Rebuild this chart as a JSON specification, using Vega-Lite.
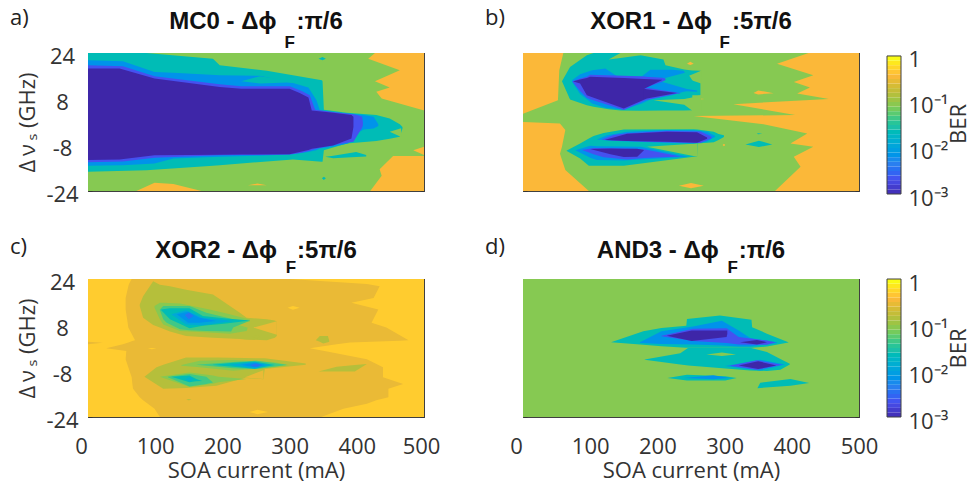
{"$schema":"https://vega.github.io/schema/vega-lite/v6.json","padding":{"left":9,"top":6,"right":0,"bottom":0},"background":"white","config":{"font":"Open Sans","view":{"stroke":"#404040","strokeWidth":1},"title":{"font":"Liberation Sans","fontWeight":"bold","fontSize":24,"color":"#111111","offset":-27},"axis":{"labelFont":"Open Sans","titleFont":"Open Sans","labelFontSize":22,"titleFontSize":22,"labelColor":"#333333","titleColor":"#333333","titleFontWeight":"normal","tickColor":"#333333","domain":true,"domainColor":"#404040","zindex":1,"grid":false,"labelFlush":false}},
"datasets":{
"ah":[{"s":"a0","b":0.095,"y":24,"x":0,"x2":500},{"s":"a0","b":0.095,"y":-24,"x":0,"x2":500},
{"s":"a1","b":0.41,"y":24,"x":427,"x2":500},{"s":"a1","b":0.41,"y":22,"x":417,"x2":500},{"s":"a1","b":0.41,"y":18,"x":464,"x2":500},{"s":"a1","b":0.41,"y":14.2,"x":427,"x2":500},{"s":"a1","b":0.41,"y":12,"x":449,"x2":500},{"s":"a1","b":0.41,"y":10.5,"x":429,"x2":500},{"s":"a1","b":0.41,"y":8.2,"x":437,"x2":500},{"s":"a1","b":0.41,"y":4.1,"x":499,"x2":500},
{"s":"a2","b":0.41,"y":-8.6,"x":500,"x2":500},{"s":"a2","b":0.41,"y":-9.8,"x":484,"x2":500},{"s":"a2","b":0.41,"y":-11.5,"x":500,"x2":500},
{"s":"a3","b":0.41,"y":-11.8,"x":454,"x2":500},{"s":"a3","b":0.41,"y":-16.4,"x":434,"x2":500},{"s":"a3","b":0.41,"y":-18.7,"x":437,"x2":500},{"s":"a3","b":0.41,"y":-24,"x":420,"x2":500}],
"av":[{"s":"a4","b":0.41,"x":72,"y":-24,"y2":-24},{"s":"a4","b":0.41,"x":99,"y":-21.1,"y2":-24},{"s":"a4","b":0.41,"x":127,"y":-21.6,"y2":-24},{"s":"a4","b":0.41,"x":169,"y":-24,"y2":-24},
{"s":"a5","b":0.41,"x":238,"y":-22,"y2":-22},{"s":"a5","b":0.41,"x":252,"y":-21.4,"y2":-22},{"s":"a5","b":0.41,"x":266,"y":-22,"y2":-22},
{"s":"a6","b":0.026,"x":0,"y":24,"y2":-17.3},{"s":"a6","b":0.026,"x":87,"y":24,"y2":-16.8},{"s":"a6","b":0.026,"x":186,"y":22,"y2":-15.2},{"s":"a6","b":0.026,"x":196,"y":19.7,"y2":-15},{"s":"a6","b":0.026,"x":266,"y":17.8,"y2":-13.7},{"s":"a6","b":0.026,"x":305,"y":16.3,"y2":-13},{"s":"a6","b":0.026,"x":348,"y":14.5,"y2":-13.8},{"s":"a6","b":0.026,"x":349,"y":14.3,"y2":-13.8},{"s":"a6","b":0.026,"x":351,"y":4.3,"y2":-9.8},{"s":"a6","b":0.026,"x":385,"y":3.2,"y2":-7.5},{"s":"a6","b":0.026,"x":429,"y":2.4,"y2":-6.6},{"s":"a6","b":0.026,"x":449,"y":1.2,"y2":-5.8},{"s":"a6","b":0.026,"x":464,"y":-0.8,"y2":-5.1},{"s":"a6","b":0.026,"x":468,"y":-1.7,"y2":-2.3},
{"s":"a7","b":0.095,"x":449,"y":-3.4,"y2":-3.4},{"s":"a7","b":0.095,"x":466,"y":-2.2,"y2":-5.2},
{"s":"a8","b":0.026,"x":343,"y":22,"y2":22},{"s":"a8","b":0.026,"x":349,"y":22.6,"y2":21.5},{"s":"a8","b":0.026,"x":354,"y":22,"y2":22},
{"s":"a9","b":0.026,"x":348,"y":-19.6,"y2":-19.6},{"s":"a9","b":0.026,"x":351,"y":-19,"y2":-20.2},{"s":"a9","b":0.026,"x":354,"y":-19.6,"y2":-19.6},
{"s":"a10","b":0.026,"x":353,"y":-12.1,"y2":-12.1},{"s":"a10","b":0.026,"x":365,"y":-11.7,"y2":-12.6},{"s":"a10","b":0.026,"x":399,"y":-10.4,"y2":-12.2},{"s":"a10","b":0.026,"x":414,"y":-11.5,"y2":-12},
{"s":"a11","b":0.0075,"x":0,"y":21.5,"y2":-15.2},{"s":"a11","b":0.0075,"x":52,"y":21.1,"y2":-15},{"s":"a11","b":0.0075,"x":99,"y":17.4,"y2":-14.4},{"s":"a11","b":0.0075,"x":127,"y":17.1,"y2":-12.7},{"s":"a11","b":0.0075,"x":196,"y":16.3,"y2":-12.1},{"s":"a11","b":0.0075,"x":256,"y":16.1,"y2":-11.7},{"s":"a11","b":0.0075,"x":305,"y":13.6,"y2":-11.2},{"s":"a11","b":0.0075,"x":328,"y":12,"y2":-10.4},{"s":"a11","b":0.0075,"x":340,"y":7.6,"y2":-9.8},{"s":"a11","b":0.0075,"x":345,"y":4.1,"y2":-9.2},{"s":"a11","b":0.0075,"x":365,"y":3.4,"y2":-8.6},{"s":"a11","b":0.0075,"x":387,"y":3,"y2":-7.5},{"s":"a11","b":0.0075,"x":400,"y":2.7,"y2":-4},{"s":"a11","b":0.0075,"x":410,"y":2.4,"y2":-2.6},{"s":"a11","b":0.0075,"x":425,"y":1.8,"y2":-2.3},{"s":"a11","b":0.0075,"x":432,"y":-0.8,"y2":-1.4},
{"s":"a12","b":0.026,"x":228,"y":14.2,"y2":14.2},{"s":"a12","b":0.026,"x":256,"y":15.9,"y2":13.4},{"s":"a12","b":0.026,"x":296,"y":14.5,"y2":13.7},{"s":"a12","b":0.026,"x":305,"y":13.7,"y2":13.6},
{"s":"a13","b":0.0024,"x":0,"y":19.7,"y2":-14},{"s":"a13","b":0.0024,"x":52,"y":19.4,"y2":-13.7},{"s":"a13","b":0.0024,"x":99,"y":15.9,"y2":-12.4},{"s":"a13","b":0.0024,"x":196,"y":13.1,"y2":-11.6},{"s":"a13","b":0.0024,"x":228,"y":12.4,"y2":-11.5},{"s":"a13","b":0.0024,"x":300,"y":12.4,"y2":-11.3},{"s":"a13","b":0.0024,"x":318,"y":10.8,"y2":-10.7},{"s":"a13","b":0.0024,"x":330,"y":9.3,"y2":-10},{"s":"a13","b":0.0024,"x":338,"y":4.3,"y2":-9.4},{"s":"a13","b":0.0024,"x":365,"y":3.5,"y2":-8},{"s":"a13","b":0.0024,"x":395,"y":2.7,"y2":-6.9},{"s":"a13","b":0.0024,"x":403,"y":2.3,"y2":-3.8},{"s":"a13","b":0.0024,"x":408,"y":1.8,"y2":-1.9},{"s":"a13","b":0.0024,"x":409,"y":0,"y2":-1.1},
{"s":"a14","b":0.001,"x":0,"y":18.6,"y2":-13.2},{"s":"a14","b":0.001,"x":47,"y":18.6,"y2":-13},{"s":"a14","b":0.001,"x":99,"y":15.1,"y2":-11.6},{"s":"a14","b":0.001,"x":196,"y":12.2,"y2":-11.4},{"s":"a14","b":0.001,"x":228,"y":11.6,"y2":-11.3},{"s":"a14","b":0.001,"x":300,"y":11.6,"y2":-11.2},{"s":"a14","b":0.001,"x":315,"y":10.1,"y2":-10.4},{"s":"a14","b":0.001,"x":328,"y":8.5,"y2":-9.7},{"s":"a14","b":0.001,"x":333,"y":4,"y2":-9.3},{"s":"a14","b":0.001,"x":365,"y":3.2,"y2":-8.2},{"s":"a14","b":0.001,"x":392,"y":2.4,"y2":-5.7},{"s":"a14","b":0.001,"x":395,"y":1.8,"y2":-1.7}],
"bh":[{"s":"b0","b":0.095,"y":24,"x":0,"x2":500},{"s":"b0","b":0.095,"y":-24,"x":0,"x2":500},
{"s":"b1","b":0.41,"y":24,"x":0,"x2":60},{"s":"b1","b":0.41,"y":18,"x":0,"x2":54},{"s":"b1","b":0.41,"y":7.6,"x":0,"x2":52},{"s":"b1","b":0.41,"y":3,"x":0,"x2":1},{"s":"b1","b":0.41,"y":2.9,"x":0,"x2":0},
{"s":"b2","b":0.41,"y":0,"x":0,"x2":1},{"s":"b2","b":0.41,"y":-0.5,"x":0,"x2":55},{"s":"b2","b":0.41,"y":-2.8,"x":0,"x2":63},{"s":"b2","b":0.41,"y":-8.6,"x":0,"x2":58},{"s":"b2","b":0.41,"y":-11,"x":0,"x2":55},{"s":"b2","b":0.41,"y":-16.7,"x":0,"x2":63},{"s":"b2","b":0.41,"y":-24,"x":0,"x2":98},
{"s":"b3","b":0.41,"y":24,"x":425,"x2":500},{"s":"b3","b":0.41,"y":20.3,"x":378,"x2":500},{"s":"b3","b":0.41,"y":16.3,"x":432,"x2":500},{"s":"b3","b":0.41,"y":13.9,"x":403,"x2":500},{"s":"b3","b":0.41,"y":12,"x":427,"x2":500},{"s":"b3","b":0.41,"y":9.9,"x":408,"x2":500},{"s":"b3","b":0.41,"y":8,"x":455,"x2":500},{"s":"b3","b":0.41,"y":6.2,"x":313,"x2":500},{"s":"b3","b":0.41,"y":2.4,"x":405,"x2":500},{"s":"b3","b":0.41,"y":2.1,"x":254,"x2":500},{"s":"b3","b":0.41,"y":-0.8,"x":358,"x2":500},{"s":"b3","b":0.41,"y":-4,"x":423,"x2":500},{"s":"b3","b":0.41,"y":-7.5,"x":398,"x2":500},{"s":"b3","b":0.41,"y":-8.6,"x":432,"x2":500},{"s":"b3","b":0.41,"y":-12.1,"x":403,"x2":500},{"s":"b3","b":0.41,"y":-15.6,"x":413,"x2":500},{"s":"b3","b":0.41,"y":-24,"x":375,"x2":500}],
"bv":[{"s":"b4","b":0.41,"x":343,"y":10.1,"y2":10.1},{"s":"b4","b":0.41,"x":350,"y":11,"y2":9.6},{"s":"b4","b":0.41,"x":373,"y":10,"y2":10},
{"s":"b5","b":0.41,"x":232,"y":-22.2,"y2":-22.2},{"s":"b5","b":0.41,"x":250,"y":-21.2,"y2":-23},{"s":"b5","b":0.41,"x":269,"y":-22.2,"y2":-22.2},
{"s":"b6","b":0.41,"x":244,"y":20.3,"y2":20.3},{"s":"b6","b":0.41,"x":249,"y":21,"y2":19.8},{"s":"b6","b":0.41,"x":254,"y":20.3,"y2":20.3},
{"s":"b7","b":0.41,"x":255,"y":8,"y2":8},{"s":"b7","b":0.41,"x":262,"y":8.2,"y2":7.8},{"s":"b7","b":0.41,"x":270,"y":8,"y2":8},
{"s":"b8","b":0.41,"x":297,"y":-8,"y2":-8},{"s":"b8","b":0.41,"x":299,"y":-7.6,"y2":-8.4},{"s":"b8","b":0.41,"x":301,"y":-8,"y2":-8},
{"s":"b9","b":0.026,"x":58,"y":14.2,"y2":14.2},{"s":"b9","b":0.026,"x":70,"y":19.1,"y2":7.8},{"s":"b9","b":0.026,"x":95,"y":23.2,"y2":5.8},{"s":"b9","b":0.026,"x":105,"y":24,"y2":5.3},{"s":"b9","b":0.026,"x":127.5,"y":24,"y2":4.4},{"s":"b9","b":0.026,"x":145,"y":24,"y2":4},{"s":"b9","b":0.026,"x":175,"y":23.2,"y2":3.9},{"s":"b9","b":0.026,"x":209,"y":21.7,"y2":4},{"s":"b9","b":0.026,"x":212,"y":19.7,"y2":4},{"s":"b9","b":0.026,"x":240,"y":18.3,"y2":4},{"s":"b9","b":0.026,"x":251.5,"y":17.9,"y2":4.1},{"s":"b9","b":0.026,"x":252,"y":17.9,"y2":9.3},{"s":"b9","b":0.026,"x":264,"y":17.8,"y2":9.3},
{"s":"b10","b":0.095,"x":127.5,"y":21.7,"y2":21.7},{"s":"b10","b":0.095,"x":145,"y":24,"y2":22.3},{"s":"b10","b":0.095,"x":175,"y":24,"y2":23.2},
{"s":"b11","b":0.095,"x":240,"y":15.4,"y2":15.4},{"s":"b11","b":0.095,"x":265,"y":17.8,"y2":13.4},
{"s":"b12","b":0.095,"x":194,"y":7.6,"y2":7.6},{"s":"b12","b":0.095,"x":240,"y":8,"y2":6},{"s":"b12","b":0.095,"x":251.5,"y":8.5,"y2":4},{"s":"b12","b":0.095,"x":265,"y":9.4,"y2":4},
{"s":"b13","b":0.0075,"x":73,"y":14.5,"y2":13.9},{"s":"b13","b":0.0075,"x":85,"y":16.6,"y2":9.7},{"s":"b13","b":0.0075,"x":103,"y":18,"y2":6.4},{"s":"b13","b":0.0075,"x":122.5,"y":18.6,"y2":5},{"s":"b13","b":0.0075,"x":140,"y":15.9,"y2":4.5},{"s":"b13","b":0.0075,"x":150,"y":15.9,"y2":4.3},{"s":"b13","b":0.0075,"x":177,"y":15.9,"y2":6.4},{"s":"b13","b":0.0075,"x":189.5,"y":18.2,"y2":7.8},{"s":"b13","b":0.0075,"x":222,"y":18.2,"y2":9.3},{"s":"b13","b":0.0075,"x":239,"y":17.8,"y2":10.5},{"s":"b13","b":0.0075,"x":244,"y":16,"y2":10.7},{"s":"b13","b":0.0075,"x":259,"y":11,"y2":10.5},
{"s":"b14","b":0.026,"x":199,"y":14.5,"y2":14.5},{"s":"b14","b":0.026,"x":244,"y":17.3,"y2":11.5},{"s":"b14","b":0.026,"x":259,"y":12,"y2":11},
{"s":"b15","b":0.0024,"x":74,"y":14.2,"y2":13.9},{"s":"b15","b":0.0024,"x":85,"y":15.1,"y2":10.8},{"s":"b15","b":0.0024,"x":95,"y":15.7,"y2":8.4},{"s":"b15","b":0.0024,"x":100,"y":16.4,"y2":7.9},{"s":"b15","b":0.0024,"x":150,"y":16.1,"y2":4.2},{"s":"b15","b":0.0024,"x":182,"y":15.8,"y2":7.6},{"s":"b15","b":0.0024,"x":183,"y":15.7,"y2":12},{"s":"b15","b":0.0024,"x":207,"y":15.4,"y2":14},{"s":"b15","b":0.0024,"x":212,"y":15.1,"y2":14.5},
{"s":"b16","b":0.0024,"x":182,"y":12,"y2":7.6},{"s":"b16","b":0.0024,"x":229,"y":10.3,"y2":9.9},{"s":"b16","b":0.0024,"x":234,"y":10,"y2":9.9},
{"s":"b17","b":0.001,"x":75,"y":14.2,"y2":14.1},{"s":"b17","b":0.001,"x":85,"y":14.8,"y2":13.4},{"s":"b17","b":0.001,"x":95,"y":15.3,"y2":9.3},{"s":"b17","b":0.001,"x":100,"y":15.7,"y2":8.9},{"s":"b17","b":0.001,"x":150,"y":15.3,"y2":4.7},{"s":"b17","b":0.001,"x":180,"y":15,"y2":7.7},{"s":"b17","b":0.001,"x":180.5,"y":15,"y2":11.6},{"s":"b17","b":0.001,"x":207,"y":14.7,"y2":14.6},
{"s":"b18","b":0.001,"x":180,"y":11.6,"y2":7.7},{"s":"b18","b":0.001,"x":184.5,"y":11.4,"y2":8.2},{"s":"b18","b":0.001,"x":229,"y":10.1,"y2":10.1},
{"s":"b19","b":0.026,"x":64.5,"y":-10,"y2":-10},{"s":"b19","b":0.026,"x":85,"y":-7.5,"y2":-12.7},{"s":"b19","b":0.026,"x":98,"y":-5.7,"y2":-15.2},{"s":"b19","b":0.026,"x":105,"y":-4.9,"y2":-15.2},{"s":"b19","b":0.026,"x":120,"y":-3.8,"y2":-15.2},{"s":"b19","b":0.026,"x":150,"y":-2.6,"y2":-15.2},{"s":"b19","b":0.026,"x":254,"y":-2.5,"y2":-12.1},{"s":"b19","b":0.026,"x":259,"y":-2.6,"y2":-12.1},{"s":"b19","b":0.026,"x":259.5,"y":-2.6,"y2":-7.5},{"s":"b19","b":0.026,"x":284,"y":-3.4,"y2":-7},{"s":"b19","b":0.026,"x":291,"y":-4.2,"y2":-6.3},{"s":"b19","b":0.026,"x":299,"y":-4.6,"y2":-5.2},
{"s":"b20","b":0.095,"x":184.5,"y":-8.6,"y2":-8.6},{"s":"b20","b":0.095,"x":259,"y":-7.5,"y2":-12.1},
{"s":"b21","b":0.0075,"x":110,"y":-6.1,"y2":-6.1},{"s":"b21","b":0.0075,"x":125,"y":-4.6,"y2":-6.4},{"s":"b21","b":0.0075,"x":155,"y":-3.4,"y2":-6.8},{"s":"b21","b":0.0075,"x":214,"y":-2.8,"y2":-7.2},{"s":"b21","b":0.0075,"x":254,"y":-2.9,"y2":-7.5},{"s":"b21","b":0.0075,"x":274,"y":-3.4,"y2":-6.8},{"s":"b21","b":0.0075,"x":286,"y":-4.9,"y2":-5.1},
{"s":"b22","b":0.0075,"x":78,"y":-9.8,"y2":-9.8},{"s":"b22","b":0.0075,"x":100,"y":-8.3,"y2":-12.4},{"s":"b22","b":0.0075,"x":110,"y":-8.4,"y2":-13.2},{"s":"b22","b":0.0075,"x":150,"y":-8.5,"y2":-13.4},{"s":"b22","b":0.0075,"x":175,"y":-8.6,"y2":-13},{"s":"b22","b":0.0075,"x":246.5,"y":-12.1,"y2":-12.1},
{"s":"b23","b":0.0024,"x":88,"y":-9.7,"y2":-9.7},{"s":"b23","b":0.0024,"x":105,"y":-9,"y2":-11.2},{"s":"b23","b":0.0024,"x":120,"y":-9.1,"y2":-12.3},{"s":"b23","b":0.0024,"x":155,"y":-9.2,"y2":-13},{"s":"b23","b":0.0024,"x":180,"y":-9.5,"y2":-12.5},{"s":"b23","b":0.0024,"x":234,"y":-12,"y2":-12},
{"s":"b24","b":0.001,"x":100,"y":-9.4,"y2":-9.4},{"s":"b24","b":0.001,"x":130,"y":-9.2,"y2":-11.2},{"s":"b24","b":0.001,"x":150,"y":-9.3,"y2":-12.2},{"s":"b24","b":0.001,"x":170,"y":-9.3,"y2":-12.1},{"s":"b24","b":0.001,"x":180,"y":-9.7,"y2":-9.8},
{"s":"b25","b":0.0024,"x":117.5,"y":-6.1,"y2":-6.2},{"s":"b25","b":0.0024,"x":135,"y":-4.5,"y2":-6.4},{"s":"b25","b":0.0024,"x":155,"y":-3.9,"y2":-6.6},{"s":"b25","b":0.0024,"x":214,"y":-3.1,"y2":-7},{"s":"b25","b":0.0024,"x":264,"y":-3.3,"y2":-7.3},{"s":"b25","b":0.0024,"x":279,"y":-4.9,"y2":-5.8},{"s":"b25","b":0.0024,"x":281,"y":-5.4,"y2":-5.5},
{"s":"b26","b":0.001,"x":122.5,"y":-6.2,"y2":-6.3},{"s":"b26","b":0.001,"x":155,"y":-4.1,"y2":-6.6},{"s":"b26","b":0.001,"x":214,"y":-3.4,"y2":-6.9},{"s":"b26","b":0.001,"x":259,"y":-3.6,"y2":-7.2},{"s":"b26","b":0.001,"x":274,"y":-5.4,"y2":-5.8},
{"s":"b27","b":0.026,"x":331,"y":-7.8,"y2":-7.8},{"s":"b27","b":0.026,"x":351,"y":-6.5,"y2":-8.7},{"s":"b27","b":0.026,"x":371,"y":-7.8,"y2":-7.8},
{"s":"b28","b":0.026,"x":348,"y":-4,"y2":-4},{"s":"b28","b":0.026,"x":350,"y":-3.9,"y2":-4.3},{"s":"b28","b":0.026,"x":356,"y":-4.1,"y2":-4.1}],
"ch":[{"s":"c0","b":0.55,"y":24,"x":0,"x2":500},{"s":"c0","b":0.55,"y":-24,"x":0,"x2":500},
{"s":"c1","b":0.33,"y":24,"x":65,"x2":300},{"s":"c1","b":0.33,"y":22.3,"x":61,"x2":415},{"s":"c1","b":0.33,"y":21.5,"x":60,"x2":434},{"s":"c1","b":0.33,"y":17.4,"x":56,"x2":425},{"s":"c1","b":0.33,"y":15.7,"x":56,"x2":392},{"s":"c1","b":0.33,"y":13.4,"x":56,"x2":432},{"s":"c1","b":0.33,"y":8.8,"x":59,"x2":422},{"s":"c1","b":0.33,"y":7.1,"x":60,"x2":444},{"s":"c1","b":0.33,"y":2.7,"x":70,"x2":477},{"s":"c1","b":0.33,"y":2.5,"x":67,"x2":464},{"s":"c1","b":0.33,"y":1.9,"x":60,"x2":390},{"s":"c1","b":0.33,"y":1.3,"x":52,"x2":370},{"s":"c1","b":0.33,"y":-0.1,"x":27,"x2":330},{"s":"c1","b":0.33,"y":-1,"x":57,"x2":352},{"s":"c1","b":0.33,"y":-3.9,"x":56,"x2":415},{"s":"c1","b":0.33,"y":-6.7,"x":60,"x2":439},{"s":"c1","b":0.33,"y":-10.2,"x":65,"x2":439},{"s":"c1","b":0.33,"y":-12.5,"x":66,"x2":469},{"s":"c1","b":0.33,"y":-14.2,"x":67,"x2":447},{"s":"c1","b":0.33,"y":-17.1,"x":77,"x2":447},{"s":"c1","b":0.33,"y":-18.2,"x":82,"x2":429},{"s":"c1","b":0.33,"y":-19.4,"x":89,"x2":415},{"s":"c1","b":0.33,"y":-21.1,"x":99,"x2":380},{"s":"c1","b":0.33,"y":-24,"x":107,"x2":347}],
"cv":[{"s":"c2","b":0.33,"x":0,"y":2.2,"y2":1.3},{"s":"c2","b":0.33,"x":22,"y":1.8,"y2":1.8},
{"s":"c3","b":0.55,"x":297,"y":14,"y2":14},{"s":"c3","b":0.55,"x":305,"y":14.6,"y2":13.3},{"s":"c3","b":0.55,"x":315,"y":14,"y2":14},
{"s":"c4","b":0.55,"x":240,"y":-22.3,"y2":-22.3},{"s":"c4","b":0.55,"x":252,"y":-21.5,"y2":-23},{"s":"c4","b":0.55,"x":268,"y":-22.3,"y2":-22.3},
{"s":"c5","b":0.55,"x":89,"y":-0.2,"y2":-0.2},{"s":"c5","b":0.55,"x":95,"y":0,"y2":-0.4},{"s":"c5","b":0.55,"x":102,"y":-0.2,"y2":-0.2},
{"s":"c6","b":0.165,"x":77,"y":15.1,"y2":14.6},{"s":"c6","b":0.165,"x":82,"y":18,"y2":10.5},{"s":"c6","b":0.165,"x":97,"y":23.2,"y2":8},{"s":"c6","b":0.165,"x":107,"y":22,"y2":7.1},{"s":"c6","b":0.165,"x":122,"y":21.5,"y2":5.7},{"s":"c6","b":0.165,"x":146,"y":20.3,"y2":4.2},{"s":"c6","b":0.165,"x":186,"y":18.6,"y2":3.6},{"s":"c6","b":0.165,"x":226,"y":12.3,"y2":3.1},{"s":"c6","b":0.165,"x":236,"y":10.5,"y2":2.9},{"s":"c6","b":0.165,"x":266,"y":10,"y2":2.7},{"s":"c6","b":0.165,"x":278,"y":9.6,"y2":3.6},{"s":"c6","b":0.165,"x":281,"y":9.2,"y2":4.2},
{"s":"c7","b":0.33,"x":246,"y":7.1,"y2":7.1},{"s":"c7","b":0.33,"x":281,"y":9.3,"y2":4.6},
{"s":"c8","b":0.095,"x":99,"y":14.6,"y2":14},{"s":"c8","b":0.095,"x":107,"y":15.7,"y2":10},{"s":"c8","b":0.095,"x":112,"y":15.7,"y2":8.2},{"s":"c8","b":0.095,"x":137,"y":15.5,"y2":5.9},{"s":"c8","b":0.095,"x":181,"y":13.4,"y2":5.4},{"s":"c8","b":0.095,"x":211,"y":11.7,"y2":5},{"s":"c8","b":0.095,"x":236,"y":10.2,"y2":5.9},{"s":"c8","b":0.095,"x":241,"y":9.9,"y2":9.4},
{"s":"c9","b":0.165,"x":216,"y":8.5,"y2":8.5},{"s":"c9","b":0.165,"x":241,"y":9.2,"y2":6.9},
{"s":"c10","b":0.05,"x":107,"y":13.4,"y2":13.1},{"s":"c10","b":0.05,"x":112,"y":14.6,"y2":10},{"s":"c10","b":0.05,"x":117,"y":14.6,"y2":8.8},{"s":"c10","b":0.05,"x":137,"y":14.6,"y2":6.5},{"s":"c10","b":0.05,"x":151,"y":14.6,"y2":6.2},{"s":"c10","b":0.05,"x":176,"y":12.3,"y2":5.9},{"s":"c10","b":0.05,"x":213,"y":10.2,"y2":5.7},{"s":"c10","b":0.05,"x":216,"y":9.8,"y2":7.1},{"s":"c10","b":0.05,"x":241,"y":9.6,"y2":9.5},
{"s":"c11","b":0.026,"x":109,"y":13.4,"y2":13.1},{"s":"c11","b":0.026,"x":122,"y":13.8,"y2":10},{"s":"c11","b":0.026,"x":151,"y":13.8,"y2":6.9},{"s":"c11","b":0.026,"x":171,"y":11.1,"y2":7.7},{"s":"c11","b":0.026,"x":206,"y":10.3,"y2":8.5},{"s":"c11","b":0.026,"x":241,"y":9.6,"y2":9.6},
{"s":"c12","b":0.0138,"x":124,"y":11.7,"y2":11.7},{"s":"c12","b":0.0138,"x":146,"y":13.1,"y2":8.2},{"s":"c12","b":0.0138,"x":171,"y":10.5,"y2":7.9},{"s":"c12","b":0.0138,"x":216,"y":9.4,"y2":9.4},
{"s":"c13","b":0.0075,"x":132,"y":11.7,"y2":11.7},{"s":"c13","b":0.0075,"x":149,"y":12.6,"y2":8.8},{"s":"c13","b":0.0075,"x":166,"y":10.5,"y2":8.8},{"s":"c13","b":0.0075,"x":191,"y":9.4,"y2":9.4},
{"s":"c14","b":0.004,"x":144,"y":11.5,"y2":11.5},{"s":"c14","b":0.004,"x":150,"y":12.3,"y2":10},{"s":"c14","b":0.004,"x":157,"y":11.1,"y2":11.1},
{"s":"c15","b":0.165,"x":243,"y":3.9,"y2":3.9},{"s":"c15","b":0.165,"x":251,"y":4.4,"y2":3.4},{"s":"c15","b":0.165,"x":256,"y":3.9,"y2":3.9},
{"s":"c16","b":0.165,"x":339,"y":2.7,"y2":2.7},{"s":"c16","b":0.165,"x":345,"y":4.2,"y2":2.2},{"s":"c16","b":0.165,"x":350,"y":4.2,"y2":1.6},{"s":"c16","b":0.165,"x":357,"y":4.2,"y2":2},{"s":"c16","b":0.165,"x":359,"y":2.5,"y2":2.2},
{"s":"c17","b":0.165,"x":343,"y":-8.2,"y2":-8.2},{"s":"c17","b":0.165,"x":370,"y":-6.5,"y2":-8.2},{"s":"c17","b":0.165,"x":397,"y":-5.9,"y2":-8.2},{"s":"c17","b":0.165,"x":415,"y":-5.6,"y2":-5.6},
{"s":"c18","b":0.165,"x":84,"y":-10,"y2":-10},{"s":"c18","b":0.165,"x":102,"y":-6.7,"y2":-12.7},{"s":"c18","b":0.165,"x":112,"y":-5.8,"y2":-14.2},{"s":"c18","b":0.165,"x":146,"y":-3.3,"y2":-13.9},{"s":"c18","b":0.165,"x":191,"y":-3.3,"y2":-13.1},{"s":"c18","b":0.165,"x":233,"y":-3.5,"y2":-10.4},{"s":"c18","b":0.165,"x":261,"y":-3.6,"y2":-10.9},{"s":"c18","b":0.165,"x":263,"y":-3.6,"y2":-7.3},{"s":"c18","b":0.165,"x":324,"y":-5.4,"y2":-5.8},
{"s":"c19","b":0.33,"x":233,"y":-10.3,"y2":-10.3},{"s":"c19","b":0.33,"x":261,"y":-7.7,"y2":-10.8},
{"s":"c20","b":0.095,"x":139,"y":-5.9,"y2":-6.2},{"s":"c20","b":0.095,"x":166,"y":-4.4,"y2":-6.7},{"s":"c20","b":0.095,"x":216,"y":-4.2,"y2":-7.9},{"s":"c20","b":0.095,"x":276,"y":-4.9,"y2":-6.7},{"s":"c20","b":0.095,"x":298,"y":-5.9,"y2":-6},
{"s":"c21","b":0.095,"x":107,"y":-10,"y2":-10},{"s":"c21","b":0.095,"x":151,"y":-8.5,"y2":-13.6},{"s":"c21","b":0.095,"x":186,"y":-9.6,"y2":-12.4},{"s":"c21","b":0.095,"x":194,"y":-10,"y2":-11.9},{"s":"c21","b":0.095,"x":236,"y":-10.8,"y2":-10.8},
{"s":"c22","b":0.05,"x":161,"y":-5.8,"y2":-5.8},{"s":"c22","b":0.05,"x":216,"y":-4.9,"y2":-7},{"s":"c22","b":0.05,"x":251,"y":-4.4,"y2":-7.3},{"s":"c22","b":0.05,"x":295,"y":-5.8,"y2":-5.9},
{"s":"c23","b":0.026,"x":186,"y":-5.8,"y2":-5.9},{"s":"c23","b":0.026,"x":216,"y":-5.1,"y2":-6.5},{"s":"c23","b":0.026,"x":248,"y":-4.7,"y2":-7.2},{"s":"c23","b":0.026,"x":278,"y":-5.9,"y2":-5.9},
{"s":"c24","b":0.0138,"x":211,"y":-5.8,"y2":-5.8},{"s":"c24","b":0.0138,"x":248,"y":-4.9,"y2":-7.1},{"s":"c24","b":0.0138,"x":271,"y":-5.9,"y2":-5.9},
{"s":"c25","b":0.0075,"x":228,"y":-5.8,"y2":-5.8},{"s":"c25","b":0.0075,"x":248,"y":-5.1,"y2":-6.7},{"s":"c25","b":0.0075,"x":263,"y":-5.9,"y2":-5.9},
{"s":"c26","b":0.004,"x":241,"y":-6,"y2":-6},{"s":"c26","b":0.004,"x":250,"y":-5.4,"y2":-6.6},{"s":"c26","b":0.004,"x":258,"y":-6,"y2":-6},
{"s":"c27","b":0.05,"x":119,"y":-10,"y2":-10.2},{"s":"c27","b":0.05,"x":151,"y":-9,"y2":-13.4},{"s":"c27","b":0.05,"x":176,"y":-10,"y2":-12.5},{"s":"c27","b":0.05,"x":186,"y":-12,"y2":-12},
{"s":"c28","b":0.026,"x":124,"y":-10,"y2":-10},{"s":"c28","b":0.026,"x":151,"y":-9.6,"y2":-11.9},{"s":"c28","b":0.026,"x":161,"y":-10.8,"y2":-11.6},{"s":"c28","b":0.026,"x":170,"y":-11.5,"y2":-11.5},
{"s":"c29","b":0.018,"x":144,"y":-10.8,"y2":-10.8},{"s":"c29","b":0.018,"x":151,"y":-10,"y2":-11.7},{"s":"c29","b":0.018,"x":157,"y":-10.8,"y2":-10.8},
{"s":"c30","b":0.165,"x":146,"y":-18,"y2":-18},{"s":"c30","b":0.165,"x":150,"y":-17.7,"y2":-18.2},{"s":"c30","b":0.165,"x":154,"y":-18,"y2":-18}],
"dh":[{"s":"d0","b":0.095,"y":24,"x":0,"x2":500},{"s":"d0","b":0.095,"y":-24,"x":0,"x2":500}],
"dv":[{"s":"d1","b":0.026,"x":131,"y":2,"y2":2},{"s":"d1","b":0.026,"x":179,"y":5.8,"y2":1.1},{"s":"d1","b":0.026,"x":206,"y":7,"y2":0.6},{"s":"d1","b":0.026,"x":243,"y":7.7,"y2":0.1},{"s":"d1","b":0.026,"x":244,"y":10.1,"y2":0.1},{"s":"d1","b":0.026,"x":293,"y":11.3,"y2":0.1},{"s":"d1","b":0.026,"x":340,"y":9.8,"y2":0.1},{"s":"d1","b":0.026,"x":341,"y":7.2,"y2":0.1},{"s":"d1","b":0.026,"x":363,"y":5,"y2":0.5},{"s":"d1","b":0.026,"x":395,"y":2,"y2":1.9},
{"s":"d2","b":0.026,"x":181,"y":-4,"y2":-4.1},{"s":"d2","b":0.026,"x":234,"y":-1.8,"y2":-5.7},{"s":"d2","b":0.026,"x":246,"y":0.1,"y2":-6.1},{"s":"d2","b":0.026,"x":338,"y":0.1,"y2":-7.8},{"s":"d2","b":0.026,"x":363,"y":-1.4,"y2":-8},{"s":"d2","b":0.026,"x":383,"y":-3.8,"y2":-7.6},{"s":"d2","b":0.026,"x":397,"y":-5.5,"y2":-5.7},
{"s":"d3","b":0.095,"x":273,"y":-2.3,"y2":-2.3},{"s":"d3","b":0.095,"x":296,"y":-1.6,"y2":-2.8},{"s":"d3","b":0.095,"x":317,"y":-2.3,"y2":-2.3},
{"s":"d4","b":0.0075,"x":301,"y":-6.3,"y2":-6.3},{"s":"d4","b":0.0075,"x":353,"y":-4.1,"y2":-7.8},{"s":"d4","b":0.0075,"x":390,"y":-5.7,"y2":-5.7},
{"s":"d5","b":0.0024,"x":308,"y":-6.2,"y2":-6.2},{"s":"d5","b":0.0024,"x":348,"y":-4.3,"y2":-7.6},{"s":"d5","b":0.0024,"x":385,"y":-5.8,"y2":-5.8},
{"s":"d6","b":0.001,"x":321,"y":-6.1,"y2":-6.1},{"s":"d6","b":0.001,"x":350,"y":-4.6,"y2":-7.3},{"s":"d6","b":0.001,"x":377,"y":-6.1,"y2":-6.1},
{"s":"d7","b":0.0075,"x":174,"y":2,"y2":1.7},{"s":"d7","b":0.0075,"x":206,"y":5.8,"y2":1.4},{"s":"d7","b":0.0075,"x":253,"y":7.5,"y2":1.2},{"s":"d7","b":0.0075,"x":296,"y":9.5,"y2":0.9},{"s":"d7","b":0.0075,"x":321,"y":6.1,"y2":0.5},{"s":"d7","b":0.0075,"x":338,"y":3.5,"y2":0.5},{"s":"d7","b":0.0075,"x":378,"y":2,"y2":1.7},
{"s":"d8","b":0.0024,"x":206,"y":4.3,"y2":4.1},{"s":"d8","b":0.0024,"x":253,"y":6.7,"y2":2.4},{"s":"d8","b":0.0024,"x":303,"y":6.9,"y2":1.7},{"s":"d8","b":0.0024,"x":321,"y":3.8,"y2":1.2},{"s":"d8","b":0.0024,"x":363,"y":2.6,"y2":1.1},{"s":"d8","b":0.0024,"x":375,"y":2,"y2":1.9},
{"s":"d9","b":0.001,"x":214,"y":4.3,"y2":4.3},{"s":"d9","b":0.001,"x":251,"y":6.1,"y2":2.4},{"s":"d9","b":0.001,"x":303,"y":6.1,"y2":3.8},{"s":"d9","b":0.001,"x":304,"y":6.1,"y2":4.9},
{"s":"d10","b":0.001,"x":323,"y":2,"y2":2},{"s":"d10","b":0.001,"x":348,"y":2.8,"y2":1.2},{"s":"d10","b":0.001,"x":363,"y":2,"y2":2},
{"s":"d11","b":0.026,"x":215,"y":-10.4,"y2":-10.4},{"s":"d11","b":0.026,"x":244,"y":-9.3,"y2":-11.3},{"s":"d11","b":0.026,"x":301,"y":-9.8,"y2":-11.3},{"s":"d11","b":0.026,"x":318,"y":-10.4,"y2":-10.4},
{"s":"d12","b":0.0075,"x":239,"y":-10.4,"y2":-10.4},{"s":"d12","b":0.0075,"x":283,"y":-9.5,"y2":-10.9},{"s":"d12","b":0.0075,"x":308,"y":-10.4,"y2":-10.4},
{"s":"d13","b":0.026,"x":349,"y":-13.9,"y2":-14},{"s":"d13","b":0.026,"x":353,"y":-12.1,"y2":-13.9},{"s":"d13","b":0.026,"x":398,"y":-10.8,"y2":-13.1},{"s":"d13","b":0.026,"x":426,"y":-12.2,"y2":-12.2}],
"bar":[{"b":0.001,"h":0.00126},{"b":0.00126,"h":0.00158},{"b":0.00158,"h":0.002},{"b":0.002,"h":0.00251},{"b":0.00251,"h":0.00316},{"b":0.00316,"h":0.00398},{"b":0.00398,"h":0.00501},{"b":0.00501,"h":0.00631},{"b":0.00631,"h":0.00794},{"b":0.00794,"h":0.01},{"b":0.01,"h":0.0126},{"b":0.0126,"h":0.0158},{"b":0.0158,"h":0.02},{"b":0.02,"h":0.0251},{"b":0.0251,"h":0.0316},{"b":0.0316,"h":0.0398},{"b":0.0398,"h":0.0501},{"b":0.0501,"h":0.0631},{"b":0.0631,"h":0.0794},{"b":0.0794,"h":0.1},{"b":0.1,"h":0.126},{"b":0.126,"h":0.158},{"b":0.158,"h":0.2},{"b":0.2,"h":0.251},{"b":0.251,"h":0.316},{"b":0.316,"h":0.398},{"b":0.398,"h":0.501},{"b":0.501,"h":0.631},{"b":0.631,"h":0.794},{"b":0.794,"h":1}],
"frame":[{"b":0.001,"h":1}]
},
"columns":4,"spacing":{"row":85,"column":28},"bounds":"flush","align":"each",
"concat":[
{"width":336,"height":138,"title":"MC0 - Δϕ\u00a0\u00a0\u00a0:π/6","layer":[
{"data":{"name":"ah"},"mark":{"type":"area","orient":"horizontal"},"encoding":{"y":{"field":"y","type":"quantitative","scale":{"domain":[-24,24],"nice":false,"zero":false},"axis":{"values":[-24,-8,8,24],"labelExpr":"''+datum.value","title":"Δ\u2009ν\u2009ₛ\u00a0(GHz)","tickSize":-4,"labelAlign":"center","labelPadding":30,"labelOffset":3,"titlePadding":6}},"x":{"field":"x","type":"quantitative","scale":{"domain":[0,500],"nice":false,"zero":false},"axis":{"values":[0,100,200,300,400,500],"labels":false,"tickSize":-4,"title":null}},"x2":{"field":"x2"},"detail":{"field":"s"},"color":{"field":"b","type":"quantitative","legend":null,"scale":{"type":"log","domain":[0.001,0.00237,0.00562,0.01334,0.03162,0.07499,0.17783,0.4217,1],"range":["#3e26a8","#4650f0","#2d85ee","#0aa8d8","#1cc0a8","#6fcc60","#bbbd3a","#fdb83a","#f9fb15"]}}}},
{"data":{"name":"av"},"mark":{"type":"area","orient":"vertical"},"encoding":{"x":{"field":"x","type":"quantitative","axis":null},"y":{"field":"y","type":"quantitative","axis":null},"y2":{"field":"y2"},"detail":{"field":"s"},"color":{"field":"b","type":"quantitative","legend":null}}},
{"data":{"values":[{"t":"a)","x":-116,"y":36.3}]},"mark":{"type":"text","align":"left","baseline":"middle","fontSize":22,"font":"Open Sans","color":"#222222"},"encoding":{"x":{"field":"x","type":"quantitative","axis":{"orient":"top","values":[0,100,200,300,400,500],"labels":false,"tickSize":-4,"title":null}},"y":{"field":"y","type":"quantitative","axis":{"orient":"right","values":[-24,-8,8,24],"labels":false,"tickSize":-4,"title":null}},"text":{"field":"t"}}},
{"data":{"values":[{"t":"F","x":300,"y":27.5}]},"mark":{"type":"text","align":"center","baseline":"middle","fontSize":17,"font":"Liberation Sans","fontWeight":"bold","color":"#111111"},"encoding":{"x":{"field":"x","type":"quantitative","axis":null},"y":{"field":"y","type":"quantitative","axis":null},"text":{"field":"t"}}}],"resolve":{"axis":{"x":"independent","y":"independent"}}},
{"width":43,"height":138,"view":{"stroke":null},"data":{"values":[]},"mark":"rect","encoding":{}},
{"width":336,"height":138,"title":"XOR1 - Δϕ\u00a0\u00a0\u00a0:5π/6","layer":[
{"data":{"name":"bh"},"mark":{"type":"area","orient":"horizontal"},"encoding":{"y":{"field":"y","type":"quantitative","scale":{"domain":[-24,24],"nice":false,"zero":false},"axis":{"values":[-24,-8,8,24],"labels":false,"tickSize":-4,"title":null}},"x":{"field":"x","type":"quantitative","scale":{"domain":[0,500],"nice":false,"zero":false},"axis":{"values":[0,100,200,300,400,500],"labels":false,"tickSize":-4,"title":null}},"x2":{"field":"x2"},"detail":{"field":"s"},"color":{"field":"b","type":"quantitative","legend":null,"scale":{"type":"log","domain":[0.001,0.00237,0.00562,0.01334,0.03162,0.07499,0.17783,0.4217,1],"range":["#3e26a8","#4650f0","#2d85ee","#0aa8d8","#1cc0a8","#6fcc60","#bbbd3a","#fdb83a","#f9fb15"]}}}},
{"data":{"name":"bv"},"mark":{"type":"area","orient":"vertical"},"encoding":{"x":{"field":"x","type":"quantitative","axis":null},"y":{"field":"y","type":"quantitative","axis":null},"y2":{"field":"y2"},"detail":{"field":"s"},"color":{"field":"b","type":"quantitative","legend":null}}},
{"data":{"values":[{"t":"b)","x":-56.5,"y":36.3}]},"mark":{"type":"text","align":"left","baseline":"middle","fontSize":22,"font":"Open Sans","color":"#222222"},"encoding":{"x":{"field":"x","type":"quantitative","axis":{"orient":"top","values":[0,100,200,300,400,500],"labels":false,"tickSize":-4,"title":null}},"y":{"field":"y","type":"quantitative","axis":{"orient":"right","values":[-24,-8,8,24],"labels":false,"tickSize":-4,"title":null}},"text":{"field":"t"}}},
{"data":{"values":[{"t":"F","x":300,"y":27.5}]},"mark":{"type":"text","align":"center","baseline":"middle","fontSize":17,"font":"Liberation Sans","fontWeight":"bold","color":"#111111"},"encoding":{"x":{"field":"x","type":"quantitative","axis":null},"y":{"field":"y","type":"quantitative","axis":null},"text":{"field":"t"}}}],"resolve":{"axis":{"x":"independent","y":"independent"}}},
{"width":14,"height":141,"view":{"stroke":null},"layer":[{"data":{"name":"bar"},"mark":"rect","encoding":{"y":{"field":"b","type":"quantitative","scale":{"type":"log","domain":[0.001,1.16],"nice":false},"axis":{"values":[0.001,0.01,0.1,1],"labelExpr":"datum.value==1?'1':datum.value==0.1?'10⁻¹':datum.value==0.01?'10⁻²':'10⁻³'","orient":"right","domain":false,"ticks":false,"labelPadding":7,"labelOffset":4,"title":"BER","titleAngle":270,"titlePadding":23,"titleAnchor":"middle"}},"y2":{"field":"h"},"color":{"field":"h","type":"quantitative","legend":null,"scale":{"type":"log","domain":[0.001,0.00237,0.00562,0.01334,0.03162,0.07499,0.17783,0.4217,1],"range":["#3e26a8","#4650f0","#2d85ee","#0aa8d8","#1cc0a8","#6fcc60","#bbbd3a","#fdb83a","#f9fb15"]}}}},{"data":{"name":"frame"},"mark":{"type":"rect","fillOpacity":0,"stroke":"#404040","strokeWidth":1},"encoding":{"y":{"field":"b","type":"quantitative"},"y2":{"field":"h"}}}]},
{"width":336,"height":138,"title":"XOR2 - Δϕ\u00a0\u00a0\u00a0:5π/6","layer":[
{"data":{"name":"ch"},"mark":{"type":"area","orient":"horizontal"},"encoding":{"y":{"field":"y","type":"quantitative","scale":{"domain":[-24,24],"nice":false,"zero":false},"axis":{"values":[-24,-8,8,24],"labelExpr":"''+datum.value","title":"Δ\u2009ν\u2009ₛ\u00a0(GHz)","tickSize":-4,"labelAlign":"center","labelPadding":30,"labelOffset":3,"titlePadding":6}},"x":{"field":"x","type":"quantitative","scale":{"domain":[0,500],"nice":false,"zero":false},"axis":{"values":[0,100,200,300,400,500],"tickSize":-4,"labelPadding":23,"title":"SOA current (mA)","titlePadding":3,"labelOffset":{"condition":[{"test":"datum.value==0","value":-7},{"test":"datum.value==500","value":-3}],"value":0}}},"x2":{"field":"x2"},"detail":{"field":"s"},"color":{"field":"b","type":"quantitative","legend":null,"scale":{"type":"log","domain":[0.001,0.00237,0.00562,0.01334,0.03162,0.07499,0.17783,0.4217,1],"range":["#3e26a8","#4650f0","#2d85ee","#0aa8d8","#1cc0a8","#6fcc60","#bbbd3a","#fdb83a","#f9fb15"]}}}},
{"data":{"name":"cv"},"mark":{"type":"area","orient":"vertical"},"encoding":{"x":{"field":"x","type":"quantitative","axis":null},"y":{"field":"y","type":"quantitative","axis":null},"y2":{"field":"y2"},"detail":{"field":"s"},"color":{"field":"b","type":"quantitative","legend":null}}},
{"data":{"values":[{"t":"c)","x":-116,"y":35}]},"mark":{"type":"text","align":"left","baseline":"middle","fontSize":22,"font":"Open Sans","color":"#222222"},"encoding":{"x":{"field":"x","type":"quantitative","axis":{"orient":"top","values":[0,100,200,300,400,500],"labels":false,"tickSize":-4,"title":null}},"y":{"field":"y","type":"quantitative","axis":{"orient":"right","values":[-24,-8,8,24],"labels":false,"tickSize":-4,"title":null}},"text":{"field":"t"}}},
{"data":{"values":[{"t":"F","x":302,"y":27.9}]},"mark":{"type":"text","align":"center","baseline":"middle","fontSize":17,"font":"Liberation Sans","fontWeight":"bold","color":"#111111"},"encoding":{"x":{"field":"x","type":"quantitative","axis":null},"y":{"field":"y","type":"quantitative","axis":null},"text":{"field":"t"}}}],"resolve":{"axis":{"x":"independent","y":"independent"}}},
{"width":43,"height":138,"view":{"stroke":null},"data":{"values":[]},"mark":"rect","encoding":{}},
{"width":336,"height":138,"title":"AND3 - Δϕ\u00a0\u00a0\u00a0:π/6","layer":[
{"data":{"name":"dh"},"mark":{"type":"area","orient":"horizontal"},"encoding":{"y":{"field":"y","type":"quantitative","scale":{"domain":[-24,24],"nice":false,"zero":false},"axis":{"values":[-24,-8,8,24],"labels":false,"tickSize":-4,"title":null}},"x":{"field":"x","type":"quantitative","scale":{"domain":[0,500],"nice":false,"zero":false},"axis":{"values":[0,100,200,300,400,500],"tickSize":-4,"labelPadding":23,"title":"SOA current (mA)","titlePadding":3,"labelOffset":{"condition":{"test":"datum.value==0","value":-7},"value":0}}},"x2":{"field":"x2"},"detail":{"field":"s"},"color":{"field":"b","type":"quantitative","legend":null,"scale":{"type":"log","domain":[0.001,0.00237,0.00562,0.01334,0.03162,0.07499,0.17783,0.4217,1],"range":["#3e26a8","#4650f0","#2d85ee","#0aa8d8","#1cc0a8","#6fcc60","#bbbd3a","#fdb83a","#f9fb15"]}}}},
{"data":{"name":"dv"},"mark":{"type":"area","orient":"vertical"},"encoding":{"x":{"field":"x","type":"quantitative","axis":null},"y":{"field":"y","type":"quantitative","axis":null},"y2":{"field":"y2"},"detail":{"field":"s"},"color":{"field":"b","type":"quantitative","legend":null}}},
{"data":{"values":[{"t":"d)","x":-56.5,"y":35}]},"mark":{"type":"text","align":"left","baseline":"middle","fontSize":22,"font":"Open Sans","color":"#222222"},"encoding":{"x":{"field":"x","type":"quantitative","axis":{"orient":"top","values":[0,100,200,300,400,500],"labels":false,"tickSize":-4,"title":null}},"y":{"field":"y","type":"quantitative","axis":{"orient":"right","values":[-24,-8,8,24],"labels":false,"tickSize":-4,"title":null}},"text":{"field":"t"}}},
{"data":{"values":[{"t":"F","x":312,"y":27.9}]},"mark":{"type":"text","align":"center","baseline":"middle","fontSize":17,"font":"Liberation Sans","fontWeight":"bold","color":"#111111"},"encoding":{"x":{"field":"x","type":"quantitative","axis":null},"y":{"field":"y","type":"quantitative","axis":null},"text":{"field":"t"}}}],"resolve":{"axis":{"x":"independent","y":"independent"}}},
{"width":14,"height":138,"view":{"stroke":null},"layer":[{"data":{"name":"bar"},"mark":"rect","encoding":{"y":{"field":"b","type":"quantitative","scale":{"type":"log","domain":[0.001,1],"nice":false},"axis":{"values":[0.001,0.01,0.1,1],"labelExpr":"datum.value==1?'1':datum.value==0.1?'10⁻¹':datum.value==0.01?'10⁻²':'10⁻³'","orient":"right","domain":false,"ticks":false,"labelPadding":7,"labelOffset":4,"title":"BER","titleAngle":270,"titlePadding":23,"titleAnchor":"middle"}},"y2":{"field":"h"},"color":{"field":"h","type":"quantitative","legend":null,"scale":{"type":"log","domain":[0.001,0.00237,0.00562,0.01334,0.03162,0.07499,0.17783,0.4217,1],"range":["#3e26a8","#4650f0","#2d85ee","#0aa8d8","#1cc0a8","#6fcc60","#bbbd3a","#fdb83a","#f9fb15"]}}}},{"data":{"name":"frame"},"mark":{"type":"rect","fillOpacity":0,"stroke":"#404040","strokeWidth":1},"encoding":{"y":{"field":"b","type":"quantitative"},"y2":{"field":"h"}}}]}
]}
